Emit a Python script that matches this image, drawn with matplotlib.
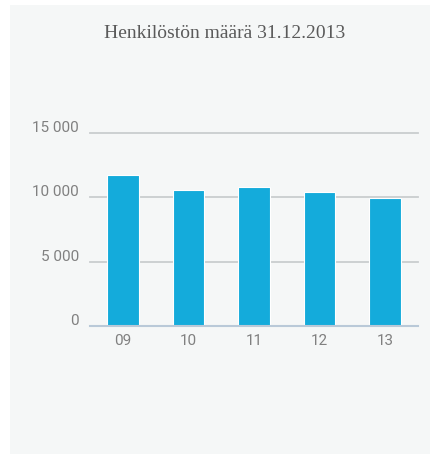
import matplotlib
matplotlib.use("Agg")
import matplotlib.pyplot as plt
from matplotlib.patches import Rectangle
import matplotlib.transforms as mtransforms

years = ["09", "10", "11", "12", "13"]
staff = [11700, 10600, 10780, 10420, 9950]
yticks = [0, 5000, 10000, 15000]
ytick_labels = ["0", "5 000", "10 000", "15 000"]
title = "Henkilöstön määrä 31.12.2013"

W, H = 430, 454
fig = plt.figure(figsize=(W / 100, H / 100), dpi=100)
fig.patch.set_facecolor("white")
fig.add_artist(Rectangle((10 / W, 0), 1 - 10 / W, 1 - 5 / H, transform=fig.transFigure,
                         facecolor="#f5f7f7", edgecolor="none", zorder=0))

ax = fig.add_axes([90 / W, (H - 326) / H, (418 - 90) / W, (326 - 133) / H])
ax.set_facecolor("none")
x = list(range(len(years)))
ax.bar(x, staff, width=0.48, color="#14abdb", edgecolor="white", linewidth=0.8, zorder=3)
ax.set_xlim(-0.5, len(years) - 0.5)
ax.set_ylim(0, 15000)
ax.set_yticks(yticks)
ax.set_yticklabels(ytick_labels)
ax.set_xticks(x)
ax.set_xticklabels(years)
for s in ax.spines.values():
    s.set_visible(False)
ax.tick_params(axis="both", length=0, colors="#808080", labelsize=11)
ax.tick_params(axis="y", pad=8)
ax.tick_params(axis="x", pad=5.5)
for lab in ax.get_yticklabels() + ax.get_xticklabels():
    lab.set_fontfamily("Roboto")
offset = mtransforms.ScaledTranslation(0, 1 / 100, fig.dpi_scale_trans)
for lab in ax.get_yticklabels():
    lab.set_verticalalignment("baseline")
    lab.set_transform(lab.get_transform() + offset)
for v in yticks[1:]:
    ax.axhline(v, color="#c9cdcf", linewidth=1.3, zorder=1, clip_on=False)
ax.axhline(0, color="#b9c9d8", linewidth=1.5, zorder=4, clip_on=False)

fig.text(225 / W, 1 - 33 / H, title, ha="center", va="center",
         fontfamily="Liberation Serif", fontsize=14, color="#5a5a5a")

fig.savefig("out.png", dpi=100, facecolor="white")
